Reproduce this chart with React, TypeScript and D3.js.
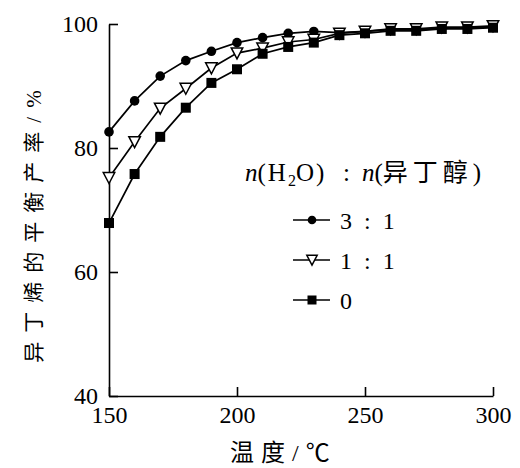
import React, { useEffect, useRef } from "react";
import * as d3 from "d3";

const temps = [150, 160, 170, 180, 190, 200, 210, 220, 230, 240, 250, 260, 270, 280, 290, 300];
const ratio31 = [82.6, 87.6, 91.6, 94.1, 95.6, 97.0, 97.8, 98.5, 98.8, 98.6, 98.8, 99.1, 99.1, 99.3, 99.4, 99.5];
const ratio11 = [75.2, 81.0, 86.4, 89.6, 92.9, 95.3, 96.1, 97.1, 97.5, 98.5, 98.8, 99.2, 99.2, 99.5, 99.5, 99.7];
const ratio0 = [67.9, 75.8, 81.8, 86.5, 90.5, 92.7, 95.2, 96.3, 97.0, 98.2, 98.5, 98.9, 98.9, 99.2, 99.2, 99.4];
const legendLabels = ["3 : 1", "1 : 1", "0"];
const xTicks = [150, 200, 250, 300];
const yTicks = [40, 60, 80, 100];

const FONT = "'Liberation Serif', 'Noto Sans CJK SC', serif";

export default function App() {
  const ref = useRef<SVGSVGElement>(null);

  useEffect(() => {
    const svg = d3.select(ref.current);
    svg.selectAll("*").remove();

    const x = d3.scaleLinear().domain([150, 300]).range([109, 493]);
    const y = d3.scaleLinear().domain([40, 100]).range([396, 24]);

    // axes
    const yAxis = d3.axisLeft(y).tickValues(yTicks).tickSize(-9).tickPadding(11).tickSizeOuter(0);
    const yG = svg.append("g").attr("transform", "translate(109,0)").call(yAxis);
    const xAxis = d3.axisBottom(x).tickValues(xTicks).tickSize(-9).tickPadding(10).tickSizeOuter(0);
    const xG = svg.append("g").attr("transform", "translate(0,396)").call(xAxis);
    [yG, xG].forEach((g) => {
      g.selectAll("path, line").attr("stroke", "#000").attr("stroke-width", 1.6);
      g.selectAll("text")
        .attr("fill", "#000")
        .style("font-family", FONT)
        .style("font-size", "24px");
    });

    // axis titles
    svg.append("text")
      .attr("x", 230)
      .attr("y", 461)
      .style("font-family", FONT)
      .style("font-size", "24px")
      .style("letter-spacing", "7px")
      .text("温度/℃");
    svg.append("text")
      .attr("transform", "translate(41,222) rotate(-90)")
      .attr("text-anchor", "middle")
      .style("font-family", FONT)
      .style("font-size", "21px")
      .style("letter-spacing", "9px")
      .text("异丁烯的平衡产率/%");

    // series
    const series = [ratio31, ratio11, ratio0];
    const line = d3.line<number>().x((_, i) => x(temps[i])).y((d) => y(d));
    series.forEach((s) => {
      svg.append("path")
        .attr("d", line(s))
        .attr("fill", "none")
        .attr("stroke", "#000")
        .attr("stroke-width", 1.7);
    });

    const tri = (cx: number, cy: number, w: number) =>
      `M${cx - w / 2},${cy - w * 0.45}L${cx + w / 2},${cy - w * 0.45}L${cx},${cy + w * 0.5}Z`;

    const drawMarker = (k: number, cx: number, cy: number, s: number) => {
      if (k === 0) {
        svg.append("circle").attr("cx", cx).attr("cy", cy).attr("r", s * 0.48).attr("fill", "#000");
      } else if (k === 1) {
        svg.append("path").attr("d", tri(cx, cy, s * 1.15)).attr("fill", "#fff").attr("stroke", "#000").attr("stroke-width", 1.5);
      } else {
        svg.append("rect").attr("x", cx - s / 2).attr("y", cy - s / 2).attr("width", s).attr("height", s).attr("fill", "#000");
      }
    };

    series.forEach((s, k) => {
      s.forEach((v, i) => drawMarker(k, x(temps[i]), y(v), 10));
    });

    // legend
    const lg = svg.append("text")
      .attr("y", 181)
      .style("font-family", FONT)
      .style("font-size", "25px");
    lg.append("tspan").attr("x", 245).style("font-style", "italic").text("n");
    lg.append("tspan").style("letter-spacing", "2px").text("(H");
    lg.append("tspan").attr("dy", 5).style("font-size", "16px").text("2");
    lg.append("tspan").attr("dy", -5).style("letter-spacing", "2px").text("O)");
    lg.append("tspan").attr("x", 343).text(":");
    lg.append("tspan").attr("x", 362).style("font-style", "italic").text("n");
    lg.append("tspan").text("(");
    lg.append("tspan").style("letter-spacing", "5px").text("异丁醇");
    lg.append("tspan").text(")");

    legendLabels.forEach((lab, k) => {
      const ly = 220 + k * 40;
      svg.append("line")
        .attr("x1", 293).attr("x2", 330).attr("y1", ly).attr("y2", ly)
        .attr("stroke", "#000").attr("stroke-width", 1.6);
      drawMarker(k, 312, ly, 9);
      svg.append("text")
        .attr("x", 340)
        .attr("y", ly + 9)
        .style("font-family", FONT)
        .style("font-size", "24px")
        .style("letter-spacing", "3px")
        .text(lab);
    });
  }, []);

  return (
    <div style={{ position: "absolute", left: 0, top: 0 }}>
      <svg ref={ref} width={520} height={468} style={{ display: "block", background: "#fff" }} />
    </div>
  );
}
